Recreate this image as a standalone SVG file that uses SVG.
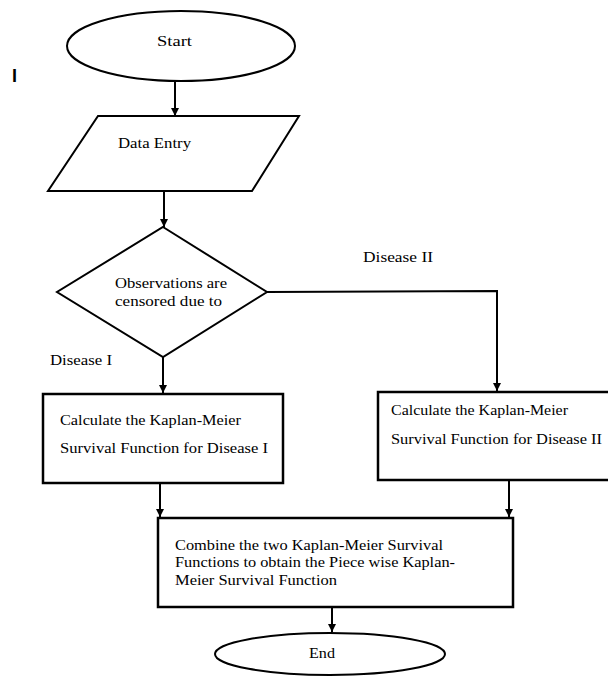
<svg xmlns="http://www.w3.org/2000/svg" width="608" height="677" viewBox="0 0 608 677">
<defs>
<style>
.shape{fill:#fff;stroke:#000;stroke-width:2}
.box{fill:#fff;stroke:#000;stroke-width:2.5}
.t{font-family:"Liberation Serif","DejaVu Serif",serif;font-size:14px;fill:#000}
.c{fill:none;stroke:#000;stroke-width:2}
</style>
<marker id="ah" markerUnits="userSpaceOnUse" markerWidth="8" markerHeight="8" refX="8" refY="4" orient="auto">
<path d="M0,0 L8,4 L0,8 z" fill="#000"/>
</marker>
</defs>
<rect width="608" height="677" fill="#fff"/>
<text x="12" y="82" style="font-family:'Liberation Sans',sans-serif;font-size:18px;font-weight:bold">I</text>
<g id="start">
<ellipse class="shape" cx="181" cy="46" rx="114" ry="35"/>
<text class="t" x="157" y="46" textLength="35" lengthAdjust="spacingAndGlyphs" style="font-size:15px">Start</text>
</g>
<g id="data-entry">
<polygon class="shape" points="98,116 299,116 252,191 48,191"/>
<text class="t" x="118" y="148" textLength="73" lengthAdjust="spacingAndGlyphs">Data Entry</text>
</g>
<g id="decision">
<polygon class="shape" points="163,227 267,292 163,357 57,292"/>
<text class="t" x="115" y="288" textLength="112" lengthAdjust="spacingAndGlyphs">Observations are</text>
<text class="t" x="115" y="306" textLength="107" lengthAdjust="spacingAndGlyphs">censored due to</text>
</g>
<g id="km1">
<rect class="box" x="43" y="394" width="240" height="89"/>
<text class="t" x="60" y="425" textLength="181" lengthAdjust="spacingAndGlyphs">Calculate the Kaplan-Meier</text>
<text class="t" x="60" y="453" textLength="208" lengthAdjust="spacingAndGlyphs">Survival Function for Disease I</text>
</g>
<g id="km2">
<rect class="box" x="378" y="392" width="234" height="88"/>
<text class="t" x="391" y="415" textLength="177" lengthAdjust="spacingAndGlyphs">Calculate the Kaplan-Meier</text>
<text class="t" x="391" y="444" textLength="211" lengthAdjust="spacingAndGlyphs">Survival Function for Disease II</text>
</g>
<g id="combine">
<rect class="box" x="158" y="518" width="355" height="89"/>
<text class="t" x="175" y="550" textLength="268" lengthAdjust="spacingAndGlyphs">Combine the two Kaplan-Meier Survival</text>
<text class="t" x="175" y="567" textLength="280" lengthAdjust="spacingAndGlyphs">Functions to obtain the Piece wise Kaplan-</text>
<text class="t" x="175" y="585" textLength="162" lengthAdjust="spacingAndGlyphs">Meier Survival Function</text>
</g>
<g id="end">
<ellipse class="shape" cx="330" cy="654" rx="115" ry="21"/>
<text class="t" x="309" y="658" textLength="26" lengthAdjust="spacingAndGlyphs" style="font-size:15px">End</text>
</g>
<g id="labels">
<text class="t" x="50" y="365" textLength="62" lengthAdjust="spacingAndGlyphs">Disease I</text>
<text class="t" x="363" y="262" textLength="70" lengthAdjust="spacingAndGlyphs">Disease II</text>
</g>
<g id="connectors">
<path class="c" d="M175,81 L175,116" marker-end="url(#ah)"/>
<path class="c" d="M164,191 L164,227" marker-end="url(#ah)"/>
<path class="c" d="M163,357 L163,393" marker-end="url(#ah)"/>
<path class="c" d="M267,292 L497,291 L497,391" marker-end="url(#ah)"/>
<path class="c" d="M160,483 L160,517" marker-end="url(#ah)"/>
<path class="c" d="M509,480 L509,517" marker-end="url(#ah)"/>
<path class="c" d="M332,607 L332,632" marker-end="url(#ah)"/>
</g>
</svg>
